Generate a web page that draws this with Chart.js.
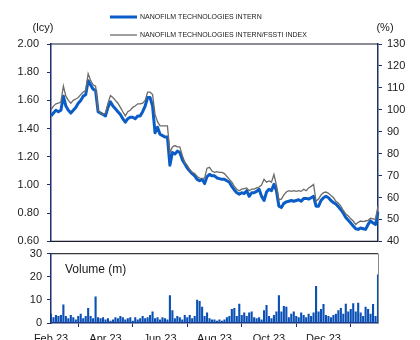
<!DOCTYPE html>
<html>
<head>
<meta charset="utf-8">
<script src="https://cdn.jsdelivr.net/npm/chart.js@4.4.0/dist/chart.umd.min.js"></script>
<style>
  html, body { margin: 0; padding: 0; background: #fff; }
  #wrap { position: relative; width: 420px; height: 340px; overflow: hidden; }
  canvas { position: absolute; left: 0; }
  #priceChart { top: 0; }
  #volChart { top: 242px; }
</style>
</head>
<body>
<div id="wrap">
  <canvas id="priceChart" width="420" height="256"></canvas>
  <canvas id="volChart" width="420" height="98"></canvas>
</div>
<script>
// share price (lcy), left axis
const price = [
  1.49, 1.51, 1.53, 1.52, 1.53, 1.63, 1.56, 1.53, 1.51, 1.53, 1.55,
  1.58, 1.60, 1.63, 1.64, 1.74, 1.71, 1.68, 1.67, 1.52, 1.51, 1.50,
  1.49, 1.55, 1.59, 1.56, 1.54, 1.52, 1.50, 1.47, 1.445, 1.47, 1.48,
  1.48, 1.47, 1.49, 1.49, 1.52, 1.56, 1.62, 1.62, 1.56, 1.37, 1.41,
  1.36, 1.35, 1.34, 1.34, 1.14, 1.23, 1.22, 1.24, 1.23, 1.18, 1.15,
  1.12, 1.10, 1.08, 1.065, 1.04, 1.03, 1.04, 1.01, 1.06, 1.075, 1.065,
  1.065, 1.05, 1.045, 1.04, 1.04, 1.03, 1.02, 0.99, 0.965, 0.945, 0.935,
  0.945, 0.94, 0.96, 0.92, 0.945, 0.945, 0.955, 0.97, 0.92, 0.89, 0.95,
  0.97, 0.96, 1.005, 0.96, 0.85, 0.84, 0.87, 0.88, 0.885, 0.89, 0.885,
  0.89, 0.895, 0.885, 0.905, 0.905, 0.90, 0.91, 0.92, 0.85, 0.85, 0.89,
  0.91, 0.92, 0.91, 0.89, 0.875, 0.865, 0.845, 0.825, 0.80, 0.77, 0.75,
  0.73, 0.71, 0.69, 0.685, 0.695, 0.69, 0.685, 0.72, 0.745, 0.73, 0.72,
  0.81
];

// relative to FSSTI index (%), right axis
const relative = [
  100, 101.7, 102.7, 103.0, 103.6, 110.8, 106.2, 104.3, 103.0, 104.3, 104.9,
  105.6, 106.9, 108.1, 108.8, 116.5, 113.3, 111.4, 110.8, 99.8, 98.5, 97.9,
  98.5, 103.0, 106.5, 105.6, 104.3, 103.0, 101.1, 99.1, 97.2, 99.1, 99.8,
  101.1, 101.7, 102.7, 102.7, 103.0, 104.3, 108.1, 108.1, 106.9, 97.9, 94.6,
  92.7, 92.7, 92.7, 92.7, 80.5, 83.1, 83.7, 83.1, 83.1, 79.2, 76.0,
  74.7, 72.8, 71.5, 70.9, 69.6, 68.9, 68.6, 68.9, 73.4, 73.8, 72.1,
  71.5, 71.8, 71.5, 71.5, 70.9, 69.6, 68.3, 67.0, 65.1, 63.8, 63.1,
  63.8, 64.1, 64.4, 63.1, 63.8, 63.8, 64.4, 64.8, 65.7, 68.3, 67.0,
  67.6, 67.0, 70.5, 65.7, 59.0, 59.3, 61.2, 62.5, 63.1, 62.8, 63.1,
  62.8, 63.1, 62.8, 63.8, 63.1, 64.4, 65.1, 66.0, 58.3, 59.3, 61.2,
  62.2, 62.5, 61.9, 60.9, 60.0, 58.3, 57.4, 56.1, 54.1, 52.5, 51.6,
  50.3, 49.3, 47.7, 48.7, 49.3, 49.0, 49.3, 49.6, 50.6, 50.3, 50.0,
  56.1
];

// volume (m)
const volume = [
  4, 2.5, 3.5, 3, 3.5, 8, 3, 2, 3.5, 2.5, 1.5,
  3, 4, 2, 3, 6.5, 3, 2, 11.5, 2.5, 2, 2.5,
  1.5, 2, 1, 1.5, 2.5, 2, 3, 2.5, 1.5, 2, 2.5,
  1, 2.5, 1.5, 2, 3, 2, 2.5, 3.5, 5, 2, 2.5,
  1.5, 2.5, 2, 1.5, 12, 5.5, 2, 3, 2.5, 1.5, 3.5,
  2.5, 3.5, 2, 3, 10, 9.5, 7, 3, 4.5, 2, 1.5,
  1.5, 1, 1.5, 1, 1.5, 2.5, 3, 6, 6.5, 3, 8.3,
  3.5, 4.5, 3, 4.5, 5, 2.5, 2, 2.5, 1.5, 5.5, 7.8,
  3, 2, 3.5, 5, 12, 5, 7.3, 7, 2.5, 4, 5,
  3, 2.5, 4.5, 3.5, 2.5, 4, 3, 4.5, 16, 5, 6,
  8.2, 3.5, 3, 2.5, 3.5, 4, 5.5, 6.5, 4, 8.3, 5,
  6, 8.5, 5, 8.8, 4.5, 3, 7, 6, 4, 8.2, 3,
  21
];

const tickLabels = ["Feb 23", "Apr 23", "Jun 23", "Aug 23", "Oct 23", "Dec 23"];
const tickIndex = [0, 22, 44, 66, 88, 110];

const labels = price.map((_, i) => i);

const BLUE = "#0a5cc6";
const BAR = "#0b50b4";
const GREY = "#6b6b6b";
const NAVY = "#1d2f6f";
const FONT = '"Liberation Sans", Arial, sans-serif';

Chart.defaults.font.family = FONT;
Chart.defaults.font.size = 11;
Chart.defaults.color = "#1a1a1a";

const topDecor = {
    id: "topDecor",
    afterDraw(chart) {
        const { ctx, chartArea: a } = chart;
        ctx.save();
        ctx.strokeStyle = "#1b1b2b";
        ctx.lineWidth = 1.2;
        ctx.beginPath();
        ctx.moveTo(a.left, a.top);
        ctx.lineTo(a.right, a.top);
        ctx.moveTo(a.left, a.bottom);
        ctx.lineTo(a.right, a.bottom);
        ctx.stroke();

        ctx.fillStyle = "#1a1a1a";
        ctx.textBaseline = "middle";
        ctx.textAlign = "center";
        ctx.font = "11px " + FONT;
        ctx.fillText("(lcy)", 43, 28);
        ctx.fillText("(%)", 385, 28);

        // legend, stacked
        const items = [
            { ds: chart.data.datasets[1], y: 17 },
            { ds: chart.data.datasets[0], y: 35 },
        ];
        ctx.textAlign = "left";
        ctx.font = "7px " + FONT;
        items.forEach(({ ds, y }) => {
            ctx.strokeStyle = ds.borderColor;
            ctx.lineWidth = ds.borderWidth;
            ctx.beginPath();
            ctx.moveTo(110, y);
            ctx.lineTo(137, y);
            ctx.stroke();
            ctx.fillText(ds.label, 140, y);
        });
        ctx.restore();
    },
};

const volDecor = {
    id: "volDecor",
    afterDraw(chart) {
        const { ctx, chartArea: a } = chart;
        ctx.save();
        ctx.strokeStyle = "#3a3a3a";
        ctx.lineWidth = 1.2;
        ctx.beginPath();
        ctx.moveTo(a.left, a.top);
        ctx.lineTo(a.right, a.top);
        ctx.stroke();
        ctx.strokeStyle = "#8a8a8a";
        ctx.lineWidth = 1;
        ctx.beginPath();
        ctx.moveTo(a.right + 0.5, a.top);
        ctx.lineTo(a.right + 0.5, a.bottom);
        ctx.stroke();
        ctx.fillStyle = "#1a1a1a";
        ctx.font = "12px " + FONT;
        ctx.textBaseline = "middle";
        ctx.fillText("Volume (m)", 65, 28);
        ctx.restore();
    },
};

new Chart(document.getElementById("priceChart"), {
    type: "line",
    data: {
        labels: labels,
        datasets: [
            {
                label: "NANOFILM TECHNOLOGIES INTERN/FSSTI INDEX",
                data: relative,
                yAxisID: "y1",
                borderColor: GREY,
                borderWidth: 1.3,
                pointRadius: 0,
            },
            {
                label: "NANOFILM TECHNOLOGIES INTERN",
                data: price,
                yAxisID: "y",
                borderColor: BLUE,
                borderWidth: 3,
                borderJoinStyle: "round",
                pointRadius: 0,
            },
        ],
    },
    options: {
        responsive: false,
        animation: false,
        devicePixelRatio: 1,
        layout: { padding: { top: 44, bottom: 4, left: 0, right: 0 } },
        plugins: { legend: { display: false }, tooltip: { enabled: false } },
        scales: {
            x: { display: false, offset: false },
            y: {
                position: "left",
                min: 0.6,
                max: 2.0,
                ticks: { stepSize: 0.2, padding: 8, callback: (v) => v.toFixed(2) },
                grid: { drawOnChartArea: false, tickLength: 4, color: NAVY },
                border: { color: NAVY, width: 1.5 },
                afterFit: (s) => { s.width = 51; },
            },
            y1: {
                position: "right",
                min: 40,
                max: 130,
                ticks: { stepSize: 10, padding: 5 },
                grid: { drawOnChartArea: false, tickLength: 4, color: NAVY },
                border: { color: NAVY, width: 1.5 },
                afterFit: (s) => { s.width = 42; },
            },
        },
    },
    plugins: [topDecor],
});

new Chart(document.getElementById("volChart"), {
    type: "bar",
    data: {
        labels: labels,
        datasets: [
            {
                label: "Volume (m)",
                data: volume,
                backgroundColor: BAR,
                barPercentage: 0.85,
                categoryPercentage: 1,
            },
        ],
    },
    options: {
        responsive: false,
        animation: false,
        devicePixelRatio: 1,
        layout: { padding: { top: 8, bottom: 0, left: 0, right: 42 } },
        plugins: { legend: { display: false }, tooltip: { enabled: false } },
        scales: {
            x: {
                offset: false,
                grid: { drawOnChartArea: false, tickLength: 4, color: NAVY },
                border: { color: NAVY, width: 1.5 },
                ticks: {
                    autoSkip: false,
                    maxRotation: 0,
                    padding: 5,
                    callback: (v, i) => {
                        const k = tickIndex.indexOf(i);
                        return k < 0 ? null : tickLabels[k];
                    },
                },
                afterFit: (s) => { s.height = 17; },
            },
            y: {
                min: 0,
                max: 30,
                ticks: { stepSize: 10, padding: 5 },
                grid: { drawOnChartArea: false, tickLength: 4, color: NAVY },
                border: { color: NAVY, width: 1.5 },
                afterFit: (s) => { s.width = 51; },
            },
        },
    },
    plugins: [volDecor],
});
</script>
</body>
</html>
